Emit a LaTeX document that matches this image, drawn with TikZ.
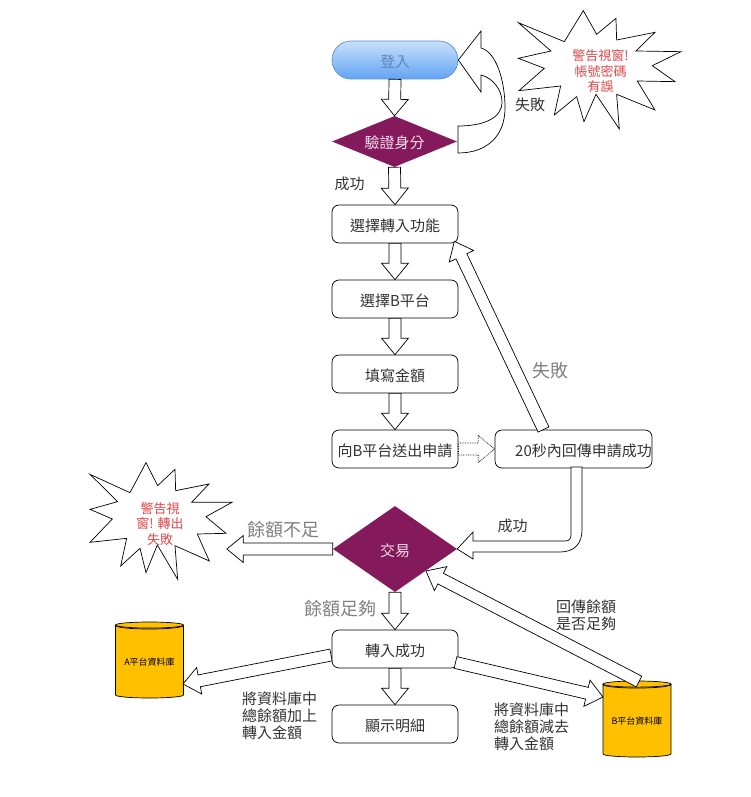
\documentclass[tikz,border=0pt]{standalone}
\usepackage{fontspec}
\setmainfont{Noto Sans CJK TC}
\usetikzlibrary{shapes.geometric,calc}
\definecolor{plum}{HTML}{84195C}
\definecolor{labelgrey}{HTML}{808080}
\definecolor{labeldark}{HTML}{333333}
\definecolor{warnred}{HTML}{E0484A}
\definecolor{dbgold}{HTML}{FFC000}
\definecolor{logintop}{HTML}{C8E0FA}
\definecolor{loginbot}{HTML}{62A4F4}
\definecolor{loginline}{HTML}{5B8FD0}
\definecolor{logintext}{HTML}{5F86B8}
\definecolor{diamondtext}{HTML}{F5DDEB}
\newcommand\fsz[2]{\fontsize{#1}{#2}\selectfont}
\newcommand\tx[1]{\raisebox{-1.5pt}[\height][\depth]{#1}}
\newcommand\blockarrow[3][]{%
  \coordinate (ba) at (#2);\coordinate (bb) at (#3);
  \coordinate (bh) at ($(bb)!16.5pt!(ba)$);
  \draw[barrow,#1] ($(ba)!6pt!90:(bb)$) -- ($(bh)!6pt!90:(bb)$) -- ($(bh)!13.5pt!90:(bb)$) -- (bb)
    -- ($(bh)!13.5pt!-90:(bb)$) -- ($(bh)!6pt!-90:(bb)$) -- ($(ba)!6pt!-90:(bb)$) -- cycle;}
\newcommand\dbrim[1]{\draw[line width=0.7pt] (#1.before top) .. controls ($(#1.before top)+(0,5.3)$) and ($(#1.after top)+(0,5.3)$) .. (#1.after top);}
\tikzset{
  barrow/.style={draw=black,fill=white,line width=0.7pt,line join=miter},
  flowbox/.style={draw=black,fill=white,rounded corners=7pt,minimum width=126pt,minimum height=38pt,inner sep=0pt,line width=0.7pt,text=labeldark,font=\fsz{15}{17}},
  decision/.style={diamond,fill=plum,inner sep=0pt,text=diamondtext,font=\fsz{15}{17}},
  dbase/.style={cylinder,shape border rotate=90,draw=black,fill=dbgold,aspect=0.12,inner sep=0pt,minimum width=68pt,minimum height=76pt,line width=0.7pt,font=\fsz{9}{10},anchor=shape center},
  star/.style={draw=black,fill=white,line width=0.7pt,line join=miter},
  warntext/.style={text=warnred,align=center,font=\fsz{13}{15.5},inner sep=0pt},
  darklabel/.style={text=labeldark,font=\fsz{15}{17.3},inner sep=0pt,align=left},
  greylabel/.style={text=labelgrey,font=\fsz{18}{21},inner sep=0pt,align=left},
}
\begin{document}
\begin{tikzpicture}[x=1pt,y=-1pt]
\useasboundingbox (0,0) rectangle (751,797);
% stars
\begin{scope}[shift={(320,0)},x=0.3333pt,y=-0.3333pt]
\draw[star] (790,32)--(830,103)--(888,55)--(890,120)--(1005,97)--(948,153)--(1083,155)--(997,197)--(1065,245)--(952,243)--(1005,330)--(890,283)--(898,387)--(828,283)--(792,365)--(770,290)--(703,345)--(722,258)--(597,272)--(673,205)--(595,175)--(693,153)--(595,68)--(733,125)--cycle;
\end{scope}
\begin{scope}[shift={(80,450)},x=0.3333pt,y=-0.3333pt]
\draw[star] (198,38)--(233,107)--(285,58)--(287,122)--(387,102)--(335,157)--(456,157)--(378,200)--(438,250)--(352,252)--(388,333)--(285,287)--(293,388)--(232,285)--(198,368)--(180,295)--(122,348)--(140,265)--(30,277)--(97,207)--(30,178)--(113,155)--(30,73)--(150,128)--cycle;
\end{scope}
\node[warntext] (warn1) at (600.5,71.5) {警告視窗!\\帳號密碼\\有誤};
\node[warntext] (warn2) at (160,524) {警告視\\窗! 轉出\\失敗};
% nodes
\node[flowbox,rounded corners=19pt,draw=loginline,top color=logintop,bottom color=loginbot,text=logintext] (login) at (395,60) {\tx{登入}};
\node[decision,aspect=2.45,minimum width=125pt,minimum height=51pt] (verify) at (394.5,141.5) {\tx{驗證身分}};
\node[flowbox] (select) at (395,224) {\tx{選擇轉入功能}};
\node[flowbox] (platform) at (395,299) {\tx{選擇B平台}};
\node[flowbox] (amount) at (395,374) {\tx{填寫金額}};
\node[flowbox] (send) at (395,449) {\tx{向B平台送出申請}};
\node[flowbox,minimum width=157pt] (check) at (573.5,449) {\hspace*{20pt}\tx{20秒內回傳申請成功}};
\node[decision,aspect=1.44,minimum width=124pt,minimum height=86pt] (trade) at (395,549) {\tx{交易}};
\node[flowbox] (success) at (395,649) {\tx{轉入成功}};
\node[flowbox] (detail) at (395,724) {\tx{顯示明細}};
\node[dbase] (dba) at (149.5,660) {A平台資料庫};
\node[dbase] (dbb) at (637,719) {B平台資料庫};
\dbrim{dba}
\dbrim{dbb}
% connectors
\blockarrow{login.south}{verify.north}
\blockarrow{verify.south}{select.north}
\blockarrow{select.south}{platform.north}
\blockarrow{platform.south}{amount.north}
\blockarrow{amount.south}{send.north}
\blockarrow[densely dotted,line width=0.8pt]{send.east}{check.west}
\coordinate (failbase) at (543.5,429.5);
\coordinate (failtip) at ($(select.south east)+(-4,-2)$);
\blockarrow{failbase}{failtip}
\blockarrow{trade.west}{$(trade.west)+(-106,0)$}
\blockarrow{trade.south}{success.north}
\blockarrow{success.south}{detail.north}
\coordinate (toA) at (183,684);
\coordinate (fromS) at (331,655);
\blockarrow{fromS}{toA}
\coordinate (fromS2) at (455.5,662.5);
\coordinate (toB) at (603,697);
\blockarrow{fromS2}{toB}
\coordinate (fromB) at (639,681.5);
\coordinate (toT) at (426,571);
\blockarrow{fromB}{toT}
% bent connector: check -> trade
\draw[barrow] (571,467) -- (571,535) .. controls (571,539) and (569,541) .. (565,541) -- (473,541) -- (473,532) -- (trade.east) -- (473,559) -- (473,552) -- (560,552) .. controls (574,552) and (582,544) .. (582,530) -- (582,467) -- cycle;
% curved connector: verify -> login
\draw[barrow] (458,126) .. controls (484,126) and (502,118) .. (502,102) .. controls (502,90) and (493,78) .. (481,75) -- (481,92) -- (login.east) -- (481,31) -- (481,48) .. controls (496,52) and (505,80) .. (505,108) .. controls (505,135) and (488,153) .. (458,153) -- cycle;
% labels
\node[darklabel] (lf1) at (530,105) {失敗};
\node[darklabel] (ls1) at (349.5,184) {成功};
\node[greylabel] (lf2) at (550,371) {失敗};
\node[darklabel] (ls2) at (512.5,526) {成功};
\node[greylabel] (lshort) at (283.5,530) {餘額不足};
\node[greylabel] (lenough) at (340.5,609) {餘額足夠};
\node[darklabel,anchor=west] (ladd) at (242,716) {將資料庫中\\總餘額加上\\轉入金額};
\node[darklabel,anchor=west] (lsub) at (494,727) {將資料庫中\\總餘額減去\\轉入金額};
\node[darklabel,anchor=west] (lret) at (556,615.5) {回傳餘額\\是否足夠};
\end{tikzpicture}
\end{document}
